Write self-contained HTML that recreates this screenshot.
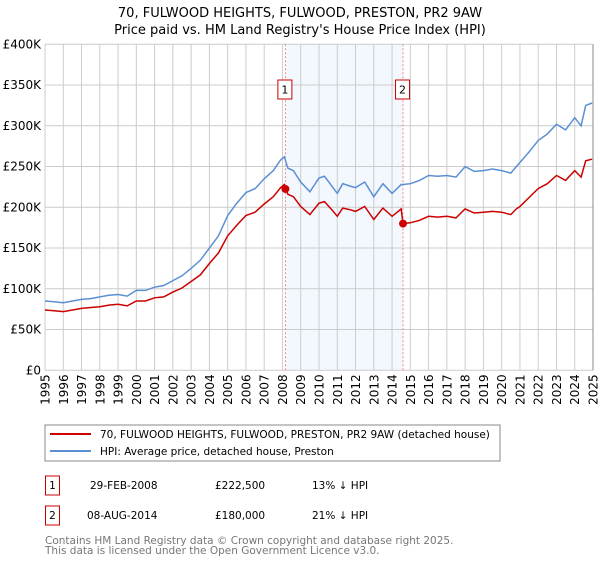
<!DOCTYPE html>
<html><head><meta charset="utf-8"><style>
body{margin:0;background:#fff;font-family:"DejaVu Sans","Liberation Sans",sans-serif;}
svg text{font-family:"DejaVu Sans","Liberation Sans",sans-serif;}
</style></head><body>
<svg id="chart" width="600" height="560" xmlns="http://www.w3.org/2000/svg">
<text x="300" y="17" text-anchor="middle" font-size="13">70, FULWOOD HEIGHTS, FULWOOD, PRESTON, PR2 9AW</text>
<text x="300" y="34" text-anchor="middle" font-size="13">Price paid vs. HM Land Registry's House Price Index (HPI)</text>
<g id="plot"></g>
<rect x="45" y="425" width="455" height="36" fill="#fff" stroke="#888"/>
<line x1="50" y1="434" x2="91" y2="434" stroke="#cc0000" stroke-width="2"/>
<text x="100" y="438" font-size="10.5">70, FULWOOD HEIGHTS, FULWOOD, PRESTON, PR2 9AW (detached house)</text>
<line x1="50" y1="451" x2="91" y2="451" stroke="#5b8fd4" stroke-width="2"/>
<text x="100" y="455" font-size="10.5">HPI: Average price, detached house, Preston</text>
<g font-size="10.5">
<rect x="45.5" y="476" width="14" height="19" fill="#fff" stroke="#cc0000"/>
<text x="52.5" y="489" text-anchor="middle">1</text>
<text x="90" y="489">29-FEB-2008</text>
<text x="215" y="489">£222,500</text>
<text x="312" y="489">13% ↓ HPI</text>
</g>
<g font-size="10.5">
<rect x="45.5" y="506" width="14" height="19" fill="#fff" stroke="#cc0000"/>
<text x="52.5" y="519" text-anchor="middle">2</text>
<text x="87" y="519">08-AUG-2014</text>
<text x="215" y="519">£180,000</text>
<text x="312" y="519">21% ↓ HPI</text>
</g>
<text x="45" y="544" font-size="10.5" fill="#777">Contains HM Land Registry data © Crown copyright and database right 2025.</text>
<text x="45" y="554" font-size="10.5" fill="#777">This data is licensed under the Open Government Licence v3.0.</text>
</svg>
<script>
const years=[1995.0,1995.5,1996.0,1996.5,1997.0,1997.5,1998.0,1998.5,1999.0,1999.5,2000.0,2000.5,2001.0,2001.5,2002.0,2002.5,2003.0,2003.5,2004.0,2004.5,2005.0,2005.5,2006.0,2006.5,2007.0,2007.5,2007.9,2008.1,2008.3,2008.6,2009.0,2009.5,2010.0,2010.3,2010.7,2011.0,2011.3,2011.7,2012.0,2012.5,2013.0,2013.5,2014.0,2014.5,2014.6,2015.0,2015.5,2016.0,2016.5,2017.0,2017.5,2018.0,2018.5,2019.0,2019.5,2020.0,2020.5,2020.8,2021.0,2021.5,2022.0,2022.5,2023.0,2023.5,2024.0,2024.35,2024.6,2024.95];
const hpi=[85,84,83,85,87,88,90,92,93,91,98,98,102,104,110,116,125,135,150,165,190,205,218,223,235,245,258,262,248,245,231,219,236,238,226,217,229,226,224,231,213,229,217,228,228,229,233,239,238,239,237,250,244,245,247,245,242,250,255,268,282,290,302,295,310,300,325,328];
const price=[74,73,72,74,76,77,78,80,81,79,85,85,89,90,96,101,109,117,131,144,165,178,190,194,204,213,224,228,216,213,201,191,205,207,197,189,199,197,195,201,185,199,189,198,180,181,184,189,188,189,187,198,193,194,195,194,191,198,201,212,223,229,239,233,245,237,257,259];
const yTicks=[0,50,100,150,200,250,300,350,400];
const yTickLabels=["£0","£50K","£100K","£150K","£200K","£250K","£300K","£350K","£400K"];
const xTicks=[1995,1996,1997,1998,1999,2000,2001,2002,2003,2004,2005,2006,2007,2008,2009,2010,2011,2012,2013,2014,2015,2016,2017,2018,2019,2020,2021,2022,2023,2024,2025];
const saleDates=[2008.16,2014.6];
const salePrices=[222.5,180];
const saleLabels=["1","2"];

const NS="http://www.w3.org/2000/svg";
const L=45,R=593,T=44.3,B=370.3;
const X=t=>L+(t-1995)/30*(R-L);
const Y=v=>B-v/400*(B-T);
const g=document.getElementById('plot');
function mk(tag,attrs){const e=document.createElementNS(NS,tag);for(const k in attrs)e.setAttribute(k,attrs[k]);g.appendChild(e);return e;}

const shade=mk('rect',{x:X(saleDates[0]),y:T,width:X(saleDates[1])-X(saleDates[0]),height:B-T,fill:'#f3f7fe'});



yTicks.forEach((v,i)=>{
 const l=mk('line',{x1:L,x2:R,y1:Y(v),y2:Y(v),stroke:'#ccc'});
 
 
 const t=mk('text',{x:L-4,y:Y(v)+4,'text-anchor':'end','font-size':12});
 t.textContent=yTickLabels[i];
 
 
});
xTicks.forEach(yr=>{
 const l=mk('line',{x1:X(yr),x2:X(yr),y1:T,y2:B,stroke:'#ccc'});
 
 
 const t=mk('text',{x:0,y:0,'text-anchor':'end','font-size':12,transform:`translate(${X(yr)+4.5},${B+4}) rotate(-90)`});
 t.textContent=String(yr);
 
 
});
const ax=mk('line',{x1:R,x2:R,y1:T,y2:B,stroke:'#888'});



saleDates.forEach((d,i)=>{
 const l=mk('line',{x1:X(d),x2:X(d),y1:T,y2:B,stroke:'#e88','stroke-dasharray':'2,2','stroke-width':1});
 
 
 const r=mk('rect',{x:X(d)-7.5,y:80,width:14,height:19,fill:'#fff',stroke:'#cc0000'});
 
 
 const t=mk('text',{x:X(d)-0.5,y:93.5,'text-anchor':'middle','font-size':11});
 t.textContent=saleLabels[i];
 
 
});

const hp=mk('path',{d:years.map((t,i)=>(i?'L':'M')+X(t).toFixed(1)+','+Y(hpi[i]).toFixed(1)).join(''),fill:'none',stroke:'#5b8fd4','stroke-width':1.5});


const pp=mk('path',{d:years.map((t,i)=>(i?'L':'M')+X(t).toFixed(1)+','+Y(price[i]).toFixed(1)).join(''),fill:'none',stroke:'#cc0000','stroke-width':1.5});


saleDates.forEach((d,i)=>{
 const c=mk('circle',{cx:X(d),cy:Y(salePrices[i]),r:4,fill:'#cc0000'});
 
 
});
</script>
</body></html>
